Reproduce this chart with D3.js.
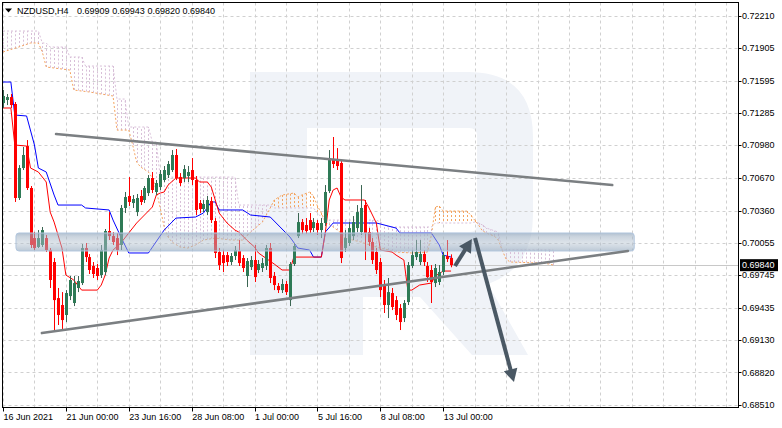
<!DOCTYPE html>
<html><head><meta charset="utf-8">
<script src="https://cdn.jsdelivr.net/npm/d3@7"></script>
<style>
body{margin:0;background:#fff;}
svg{display:block;font-family:"Liberation Sans",Arial,sans-serif;}
</style>
</head><body>
<svg id="c" width="782" height="428"></svg>
<script>
// ---------- data ----------
const symbol = "NZDUSD,H4";
const headerValues = ["0.69909", "0.69943", "0.69820", "0.69840"];
const yTicks = [0.72210, 0.71905, 0.71595, 0.71285, 0.70980, 0.70670, 0.70360, 0.70055, 0.69745, 0.69435, 0.69130, 0.68820, 0.68510];
const xTickBars = [0, 16, 32, 48, 64, 80, 96, 112];
const xTickLabels = ["16 Jun 2021", "21 Jun 00:00", "23 Jun 16:00", "28 Jun 08:00", "1 Jul 00:00", "5 Jul 16:00", "8 Jul 08:00", "13 Jul 00:00"];
const lastPrice = 0.69840;

// [open, high, low, close] per H4 bar
const candles = [
[0.71382,0.71506,0.71335,0.71449],[0.71411,0.71468,0.71363,0.71439],[0.71439,0.71468,0.71335,0.71363],
[0.71373,0.71392,0.70441,0.70479],[0.70479,0.70792,0.70460,0.70764],[0.70764,0.70964,0.70745,0.70888],
[0.70973,0.71030,0.70555,0.70574],[0.70574,0.70593,0.70003,0.70032],[0.70098,0.70155,0.69984,0.70003],
[0.70013,0.70174,0.70003,0.70098],[0.70032,0.70203,0.70013,0.70174],[0.70098,0.70127,0.69965,0.69984],
[0.69984,0.70003,0.69623,0.69699],[0.69870,0.69908,0.69223,0.69508],[0.69527,0.69623,0.69271,0.69366],
[0.69461,0.69584,0.69223,0.69318],[0.69366,0.69603,0.69299,0.69575],[0.69546,0.69737,0.69508,0.69699],
[0.69480,0.69737,0.69451,0.69670],[0.69623,0.69737,0.69584,0.69689],[0.69670,0.70041,0.69651,0.70003],
[0.70003,0.70051,0.69870,0.69917],[0.69917,0.69946,0.69756,0.69794],[0.69832,0.69870,0.69718,0.69756],
[0.69813,0.69851,0.69699,0.69737],[0.69746,0.70032,0.69718,0.69984],[0.69775,0.70184,0.69746,0.70165],
[0.70165,0.70345,0.70079,0.70117],[0.70117,0.70155,0.70032,0.70060],[0.70098,0.70146,0.69936,0.69984],
[0.70032,0.70412,0.69984,0.70384],[0.70384,0.70536,0.70336,0.70488],[0.70498,0.70678,0.70403,0.70441],
[0.70431,0.70507,0.70384,0.70469],[0.70345,0.70517,0.70307,0.70479],[0.70498,0.70555,0.70412,0.70441],
[0.70460,0.70593,0.70431,0.70574],[0.70526,0.70697,0.70498,0.70669],[0.70669,0.70726,0.70526,0.70555],
[0.70536,0.70650,0.70507,0.70621],[0.70583,0.70745,0.70555,0.70707],[0.70650,0.70783,0.70631,0.70745],
[0.70697,0.70831,0.70669,0.70802],[0.70745,0.70935,0.70726,0.70888],[0.70888,0.70945,0.70650,0.70669],
[0.70678,0.70716,0.70593,0.70621],[0.70669,0.70792,0.70631,0.70754],[0.70688,0.70783,0.70631,0.70726],
[0.70745,0.70859,0.70602,0.70650],[0.70650,0.70688,0.70317,0.70365],[0.70431,0.70460,0.70336,0.70374],
[0.70374,0.70460,0.70345,0.70422],[0.70345,0.70498,0.70317,0.70460],[0.70450,0.70488,0.70241,0.70269],
[0.70260,0.70288,0.69908,0.69956],[0.69965,0.70003,0.69794,0.69841],[0.69936,0.69984,0.69775,0.69860],
[0.69936,0.69965,0.69832,0.69870],[0.69870,0.69956,0.69841,0.69927],[0.69927,0.70022,0.69889,0.69984],
[0.69975,0.70079,0.69832,0.69860],[0.69908,0.69936,0.69775,0.69813],[0.69737,0.69908,0.69632,0.69879],
[0.69822,0.69927,0.69794,0.69889],[0.69889,0.70032,0.69680,0.69727],[0.69794,0.69889,0.69765,0.69851],
[0.69813,0.69908,0.69775,0.69860],[0.69832,0.70032,0.69794,0.70003],[0.70003,0.70051,0.69670,0.69718],
[0.69737,0.69775,0.69603,0.69651],[0.69642,0.69670,0.69575,0.69603],[0.69603,0.69708,0.69575,0.69661],
[0.69661,0.69689,0.69556,0.69584],[0.69508,0.69870,0.69451,0.69851],[0.69851,0.70051,0.69832,0.70022],
[0.70117,0.70336,0.70098,0.70250],[0.70250,0.70279,0.70136,0.70174],[0.70222,0.70288,0.70136,0.70165],
[0.70269,0.70336,0.70146,0.70174],[0.70193,0.70288,0.70155,0.70250],[0.70241,0.70269,0.70127,0.70174],
[0.70174,0.70288,0.70098,0.70241],[0.70241,0.70602,0.70212,0.70536],[0.70545,0.70935,0.70526,0.70840],
[0.70840,0.71059,0.70764,0.70802],[0.70840,0.70954,0.70745,0.70783],[0.70812,0.70840,0.69860,0.69908],
[0.70003,0.70174,0.69965,0.70098],[0.70051,0.70250,0.70022,0.70193],[0.70117,0.70307,0.70079,0.70250],
[0.70193,0.70412,0.70155,0.70345],[0.70155,0.70602,0.70127,0.70384],[0.70412,0.70460,0.69889,0.70146],
[0.70155,0.70193,0.70022,0.70060],[0.70060,0.70098,0.69851,0.69889],[0.69965,0.70003,0.69756,0.69794],
[0.69870,0.69908,0.69537,0.69603],[0.69651,0.69699,0.69385,0.69461],[0.69461,0.69718,0.69337,0.69584],
[0.69575,0.69623,0.69413,0.69442],[0.69508,0.69546,0.69318,0.69366],[0.69432,0.69470,0.69223,0.69299],
[0.69337,0.69508,0.69299,0.69480],[0.69489,0.69870,0.69461,0.69841],[0.69832,0.69984,0.69813,0.69936],
[0.69917,0.70079,0.69889,0.69965],[0.69870,0.70079,0.69841,0.69946],[0.69946,0.69984,0.69832,0.69870],
[0.69832,0.69870,0.69680,0.69727],[0.69794,0.69841,0.69480,0.69680],[0.69670,0.69851,0.69632,0.69813],
[0.69680,0.69841,0.69651,0.69775],[0.69775,0.69965,0.69746,0.69936],[0.69927,0.70079,0.69870,0.69898],
[0.69909,0.69943,0.69820,0.69840]
];

// Ichimoku lines as [bar, price] vertices
const tenkan = [[0,0.71335],[2,0.71335],[3,0.70983],[6,0.70973],[7,0.70764],[9,0.70726],[11,0.70631],[12,0.70345],[13,0.70250],[15,0.70003],[16,0.69746],[18,0.69699],[19,0.69651],[20,0.69603],[24,0.69603],[25,0.69651],[26,0.69746],[27,0.69908],[28,0.69984],[30,0.70051],[32,0.70146],[34,0.70241],[36,0.70317],[38,0.70393],[39,0.70507],[40,0.70526],[41,0.70536],[42,0.70602],[44,0.70669],[49,0.70669],[50,0.70631],[52,0.70631],[53,0.70583],[54,0.70460],[55,0.70336],[57,0.70241],[59,0.70174],[60,0.70155],[62,0.70079],[64,0.70013],[65,0.69956],[69,0.69851],[71,0.69794],[73,0.69794],[74,0.69917],[81,0.69917],[82,0.70146],[83,0.70460],[84,0.70555],[85,0.70574],[86,0.70488],[87,0.70460],[92,0.70460],[93,0.70393],[95,0.70241],[96,0.69984],[99,0.69965],[100,0.69936],[102,0.69889],[103,0.69603],[104,0.69603],[106,0.69651],[109,0.69670],[110,0.69737],[112,0.69784],[114,0.69784]];
const kijun = [[0,0.71582],[2,0.71582],[3,0.71268],[6,0.71259],[8,0.70983],[9,0.70764],[11,0.70726],[13,0.70507],[14,0.70412],[20,0.70412],[21,0.70384],[27,0.70365],[28,0.70269],[30,0.70108],[32,0.69956],[37,0.69956],[41,0.70174],[44,0.70288],[49,0.70298],[51,0.70336],[53,0.70441],[54,0.70441],[55,0.70365],[61,0.70365],[63,0.70317],[68,0.70298],[70,0.70222],[73,0.70108],[75,0.70003],[78,0.69984],[79,0.69917],[81,0.69917],[82,0.70155],[84,0.70241],[95,0.70241],[97,0.70222],[100,0.70193],[101,0.70146],[109,0.70146],[111,0.70032],[112,0.69936],[114,0.69917]];
const senkouA = [[0,0.71868],[4,0.71915],[7,0.71953],[9,0.71953],[10,0.71868],[11,0.71725],[17,0.71696],[18,0.71506],[22,0.71487],[28,0.71449],[29,0.71125],[32,0.71125],[33,0.70983],[34,0.70821],[35,0.70774],[37,0.70726],[38,0.70669],[39,0.70555],[40,0.70384],[41,0.70203],[42,0.70108],[43,0.70060],[45,0.70013],[47,0.70003],[49,0.70032],[51,0.70079],[54,0.70098],[58,0.70079],[61,0.70079],[63,0.70155],[66,0.70250],[68,0.70384],[69,0.70460],[71,0.70507],[74,0.70526],[75,0.70488],[76,0.70507],[78,0.70536],[79,0.70498],[80,0.70403],[81,0.70336],[82,0.70250],[84,0.70203],[86,0.70146],[87,0.70098],[91,0.70060],[95,0.70013],[100,0.69965],[104,0.69956],[108,0.69965],[109,0.70127],[110,0.70393],[111,0.70403],[112,0.70355],[118,0.70355],[119,0.70317],[120,0.70269],[121,0.70222],[122,0.70165],[123,0.70146],[125,0.70117],[126,0.70079],[127,0.69984],[128,0.69898],[129,0.69870],[137,0.69860],[139,0.69851],[140,0.69841]];
const senkouB = [[0,0.72067],[9,0.72067],[10,0.71953],[11,0.71953],[12,0.71915],[16,0.71915],[17,0.71820],[20,0.71820],[21,0.71734],[28,0.71734],[29,0.71420],[31,0.71420],[32,0.71154],[37,0.71154],[38,0.71011],[39,0.71011],[40,0.70678],[59,0.70678],[60,0.70412],[68,0.70412],[69,0.70384],[79,0.70384],[80,0.70336],[81,0.70298],[82,0.70269],[95,0.70269],[96,0.70250],[97,0.70222],[98,0.70203],[109,0.70203],[110,0.70241],[119,0.70241],[120,0.70250],[121,0.70241],[122,0.70222],[123,0.70193],[126,0.70155],[127,0.69984],[140,0.69984]];

// analyst drawings, in [bar, price]
const upperTrend = [[13.5, 0.71087], [155, 0.70602]];
const lowerTrend = [[9.9, 0.69194], [159, 0.69975]];
const zone = [[3.3, 0.70146], [160.6, 0.69975]];
const arrowUp = [[115, 0.69832], [119.3, 0.70089]];
const arrowDown = [[120.1, 0.70098], [130, 0.68728]];

// ---------- chart ----------
const plot = {l: 2.5, t: 2.5, r: 738.5, b: 407.5};
const svg = d3.select("#c");
const x = d3.scaleLinear().domain([0, 112]).range([3, 443.2]);
const y = d3.scaleLinear().domain([0.68510, 0.72210]).range([405, 16]);

const defs = svg.append("defs");
defs.append("clipPath").attr("id", "clip").append("rect")
  .attr("x", plot.l).attr("y", plot.t).attr("width", plot.r - plot.l).attr("height", plot.b - plot.t);
const g = defs.append("linearGradient").attr("id", "band").attr("x1", 0).attr("y1", 0).attr("x2", 0).attr("y2", 1);
g.append("stop").attr("offset", "0%").attr("stop-color", "#8fa4ba").attr("stop-opacity", 0.7);
g.append("stop").attr("offset", "20%").attr("stop-color", "#9fb1c3").attr("stop-opacity", 0.55);
g.append("stop").attr("offset", "55%").attr("stop-color", "#b3c1cf").attr("stop-opacity", 0.45);
g.append("stop").attr("offset", "100%").attr("stop-color", "#97abbf").attr("stop-opacity", 0.65);

const root = svg.append("g").attr("clip-path", "url(#clip)");

// watermark logo
root.append("path")
  .attr("d", "M250,72 H468 Q533,72 533,137 V215 Q533,268 488,284 L528,355 H472 L420,297 H363 V355 H250 Z M307,128 V232 H470 Q477,232 477,224 V136 Q477,128 469,128 Z")
  .attr("fill", "#f0f3f8").attr("fill-rule", "evenodd");

// grid
const gridBars = d3.range(0, 200, 8);
root.append("g").selectAll("line").data(gridBars).join("line")
  .attr("x1", d => Math.round(x(d)) + 0.5).attr("x2", d => Math.round(x(d)) + 0.5)
  .attr("y1", plot.t).attr("y2", plot.b)
  .attr("stroke", "#d0d0d0").attr("stroke-dasharray", "3,3");
root.append("g").selectAll("line").data(yTicks).join("line")
  .attr("x1", plot.l).attr("x2", plot.r)
  .attr("y1", d => Math.round(y(d)) + 0.5).attr("y2", d => Math.round(y(d)) + 0.5)
  .attr("stroke", "#d0d0d0").attr("stroke-dasharray", "3,3");

// last price line
root.append("line").attr("x1", plot.l).attr("x2", plot.r)
  .attr("y1", Math.round(y(lastPrice)) + 0.5).attr("y2", Math.round(y(lastPrice)) + 0.5)
  .attr("stroke", "#c8c8c8");

// Ichimoku cloud hatch
function at(pts, i) {
  if (i < pts[0][0] || i > pts[pts.length - 1][0]) return null;
  for (let k = 1; k < pts.length; k++) {
    if (i <= pts[k][0]) {
      const [x0, v0] = pts[k - 1], [x1, v1] = pts[k];
      return x1 === x0 ? v1 : v0 + (v1 - v0) * (i - x0) / (x1 - x0);
    }
  }
  return null;
}
const hatchBars = d3.range(0, 141).map(i => ({i, a: at(senkouA, i), b: at(senkouB, i)})).filter(d => d.a !== null && d.b !== null);
root.append("g").selectAll("line").data(hatchBars).join("line")
  .attr("x1", d => Math.round(x(d.i)) + 0.5).attr("x2", d => Math.round(x(d.i)) + 0.5)
  .attr("y1", d => y(d.a)).attr("y2", d => y(d.b))
  .attr("stroke", d => d.b > d.a ? "#d8bfd8" : "#f4a460")
  .attr("stroke-dasharray", "2,2");

const line = d3.line().x(d => x(d[0])).y(d => y(d[1]));
root.append("path").attr("d", line(senkouB)).attr("fill", "none").attr("stroke", "#d8bfd8").attr("stroke-dasharray", "2,2");
root.append("path").attr("d", line(senkouA)).attr("fill", "none").attr("stroke", "#f4a460").attr("stroke-dasharray", "2,2");
root.append("path").attr("d", line(kijun)).attr("fill", "none").attr("stroke", "#0000ff").attr("stroke-width", 1);
root.append("path").attr("d", line(tenkan)).attr("fill", "none").attr("stroke", "#ff0000").attr("stroke-width", 1);

// candles
const cg = root.append("g").selectAll("g").data(candles).join("g");
cg.append("line")
  .attr("x1", (d, i) => Math.round(x(i)) + 0.5).attr("x2", (d, i) => Math.round(x(i)) + 0.5)
  .attr("y1", d => y(d[1])).attr("y2", d => y(d[2]))
  .attr("stroke", d => d[3] >= d[0] ? "#3b6552" : "#ff0000");
cg.append("rect")
  .attr("x", (d, i) => Math.round(x(i)) - 1).attr("width", 3)
  .attr("y", d => y(Math.max(d[0], d[3])))
  .attr("height", d => Math.max(1, Math.abs(y(d[0]) - y(d[3]))))
  .attr("fill", d => d[3] >= d[0] ? "#2e7a56" : "#ff0000");

// zone band
root.append("rect")
  .attr("x", x(zone[0][0])).attr("width", x(zone[1][0]) - x(zone[0][0]))
  .attr("y", y(zone[0][1])).attr("height", y(zone[1][1]) - y(zone[0][1]))
  .attr("rx", 3).attr("fill", "url(#band)").attr("stroke", "#b2c6de").attr("stroke-width", 1);

// trend lines
[upperTrend, lowerTrend].forEach(t => {
  root.append("line")
    .attr("x1", x(t[0][0])).attr("y1", y(t[0][1]))
    .attr("x2", x(t[1][0])).attr("y2", y(t[1][1]))
    .attr("stroke", "#7b7f82").attr("stroke-width", 2.6).attr("stroke-linecap", "round");
});

// arrows
function arrow(a) {
  const x0 = x(a[0][0]), y0 = y(a[0][1]), x1 = x(a[1][0]), y1 = y(a[1][1]);
  const dx = x1 - x0, dy = y1 - y0, len = Math.hypot(dx, dy), ux = dx / len, uy = dy / len;
  const hl = 13, hw = 7;
  const bx = x1 - ux * hl, by = y1 - uy * hl;
  root.append("line").attr("x1", x0).attr("y1", y0).attr("x2", bx + ux * 2).attr("y2", by + uy * 2)
    .attr("stroke", "#4a5864").attr("stroke-width", 4);
  root.append("path")
    .attr("d", `M${x1},${y1}L${bx - uy * hw},${by + ux * hw}L${bx + uy * hw},${by - ux * hw}Z`)
    .attr("fill", "#4a5864");
}
arrow(arrowUp);
arrow(arrowDown);

// frame
svg.append("rect").attr("x", plot.l).attr("y", plot.t).attr("width", plot.r - plot.l).attr("height", plot.b - plot.t)
  .attr("fill", "none").attr("stroke", "#000");

// y axis
const ya = svg.append("g");
ya.selectAll("line").data(yTicks).join("line")
  .attr("x1", plot.r).attr("x2", plot.r + 3)
  .attr("y1", d => Math.round(y(d)) + 0.5).attr("y2", d => Math.round(y(d)) + 0.5).attr("stroke", "#000");
ya.selectAll("text").data(yTicks).join("text")
  .attr("x", 742).attr("y", d => y(d)).attr("dy", "0.35em")
  .attr("font-size", 9).attr("fill", "#000").text(d => d.toFixed(5));
svg.append("rect").attr("x", 740).attr("y", y(lastPrice) - 6).attr("width", 38).attr("height", 12).attr("fill", "#000");
svg.append("text").attr("x", 742).attr("y", y(lastPrice)).attr("dy", "0.35em")
  .attr("font-size", 9).attr("fill", "#fff").text(lastPrice.toFixed(5));

// x axis
const xa = svg.append("g");
xa.selectAll("line").data(xTickBars).join("line")
  .attr("x1", d => Math.round(x(d)) + 0.5).attr("x2", d => Math.round(x(d)) + 0.5)
  .attr("y1", plot.b).attr("y2", plot.b + 4).attr("stroke", "#000");
xa.selectAll("text").data(xTickBars).join("text")
  .attr("x", d => x(d) + 0.5).attr("y", 419.5)
  .attr("font-size", 9).attr("fill", "#000").text((d, i) => xTickLabels[i]);

// header
svg.append("path").attr("d", "M5,8.5 L12,8.5 L8.5,12.5 Z").attr("fill", "#000");
svg.append("text").attr("x", 17).attr("y", 13.5).attr("font-size", 9).attr("fill", "#000").text(symbol);
svg.append("g").selectAll("text").data(headerValues).join("text")
  .attr("x", (d, i) => 77 + i * 35.2).attr("y", 13.5).attr("font-size", 9).attr("fill", "#000").text(d => d);
</script>
</body></html>
